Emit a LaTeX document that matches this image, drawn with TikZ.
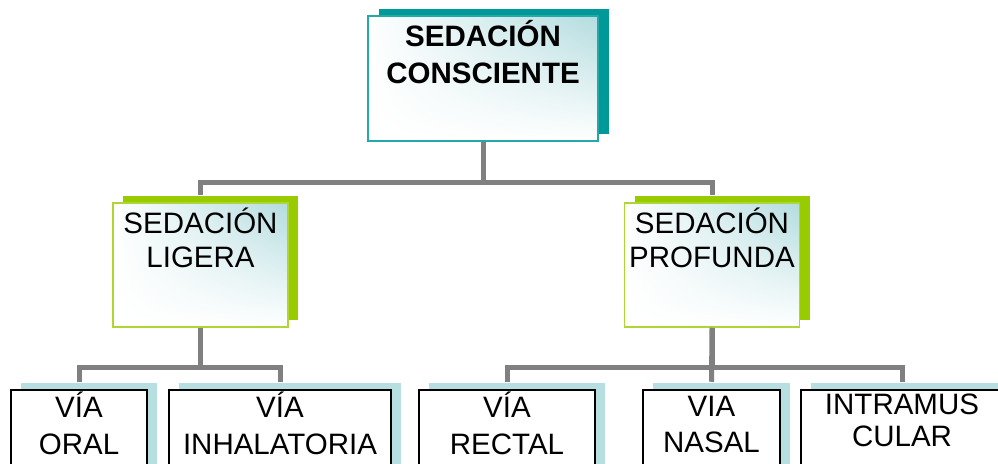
\documentclass[tikz,border=0pt]{standalone}
\usepackage{fontspec}
\setmainfont{Liberation Sans}
\usetikzlibrary{positioning,shadows,shadings}

\definecolor{tealdark}{HTML}{009999}
\definecolor{tealpale}{HTML}{B3DCDF}
\definecolor{greenlime}{HTML}{99CC00}
\definecolor{bluepale}{HTML}{B7DEE0}
\definecolor{linkgray}{HTML}{808080}

\begin{document}
\begin{tikzpicture}[x=1pt, y=-1pt,
    boxbase/.style={rectangle, inner sep=0pt, line width=1.5pt},
    frontbox/.style={boxbase, draw, lower left=white, upper left=white,
        lower right=white, upper right=tealpale},
    topbox/.style={frontbox, draw=tealdark!85, minimum width=230pt, minimum height=125pt,
        drop shadow={shadow xshift=10.5pt, shadow yshift=7.5pt, fill=tealdark, opacity=1}},
    midbox/.style={frontbox, draw=greenlime!80, minimum width=175pt, minimum height=124pt,
        drop shadow={shadow xshift=10pt, shadow yshift=7.5pt, fill=greenlime, opacity=1}},
    lowbox/.style={boxbase, draw=black, fill=white, minimum height=100pt,
        drop shadow={shadow xshift=10pt, shadow yshift=7.5pt, fill=bluepale, opacity=1}},
    boxtext/.style={inner sep=0pt, align=center, anchor=north,
        font=\fontsize{29.5}{34}\selectfont},
    lowtext/.style={boxtext, font=\fontsize{29.5}{36.5}\selectfont},
    boldtext/.style={boxtext, font=\fontsize{29.5}{37}\selectfont\bfseries},
    link/.style={draw=linkgray, line width=5pt}]

    \useasboundingbox (0,0) rectangle (998,463);
    \clip (0,0) rectangle (998,463);

    % Top level
    \node[topbox] (sc) at (483,78.5) {};
    \node[boldtext] (sctext) at ([yshift=-5pt]sc.north) {SEDACIÓN\\CONSCIENTE};

    % Second level
    \node[midbox] (sl) at (200.5,265) {};
    \node[boxtext] (sltext) at ([yshift=-5pt]sl.north) {SEDACIÓN\\LIGERA};
    \node[midbox] (sp) at (712,265) {};
    \node[boxtext] (sptext) at ([yshift=-5pt]sp.north) {SEDACIÓN\\PROFUNDA};

    % Routes of administration
    \node[lowbox, minimum width=136pt] (oral) at (79,440) {};
    \node[lowtext] (oraltext) at ([yshift=-2.5pt]oral.north) {VÍA\\ORAL};
    \node[lowbox, minimum width=222pt] (inh) at (280,440) {};
    \node[lowtext] (inhtext) at ([yshift=-2.5pt]inh.north) {VÍA\\INHALATORIA};
    \node[lowbox, minimum width=176pt] (rect) at (507,440) {};
    \node[lowtext] (recttext) at ([yshift=-2.5pt]rect.north) {VÍA\\RECTAL};
    \node[lowbox, minimum width=137pt] (nasal) at (711.5,440) {};
    \node[lowtext] (nasaltext) at ([yshift=-6.5pt]nasal.north) {VIA\\NASAL};
    \node[lowbox, minimum width=202pt] (im) at (902,440) {};
    \node[boxtext, font=\fontsize{29.5}{32}\selectfont] (imtext) at ([yshift=-4.5pt]im.north) {INTRAMUS\\CULAR};

    % Connectors
    \draw[link] (sc.south) -- ++(0,41) -| ([yshift=7.5pt]sl.north);
    \draw[link] (sc.south) -- ++(0,41) -| ([yshift=7.5pt]sp.north);
    \draw[link] (sl.south) -- ++(0,40) -| ([yshift=7.5pt]oral.north);
    \draw[link] (sl.south) -- ++(0,40) -| ([yshift=7.5pt]inh.north);
    \draw[link] (sp.south) -- ++(0,40) -| ([yshift=7.5pt]rect.north);
    \draw[link] (sp.south) -- ([yshift=7.5pt]nasal.north);
    \draw[link] (sp.south) -- ++(0,40) -| ([yshift=7.5pt]im.north);
\end{tikzpicture}
\end{document}
